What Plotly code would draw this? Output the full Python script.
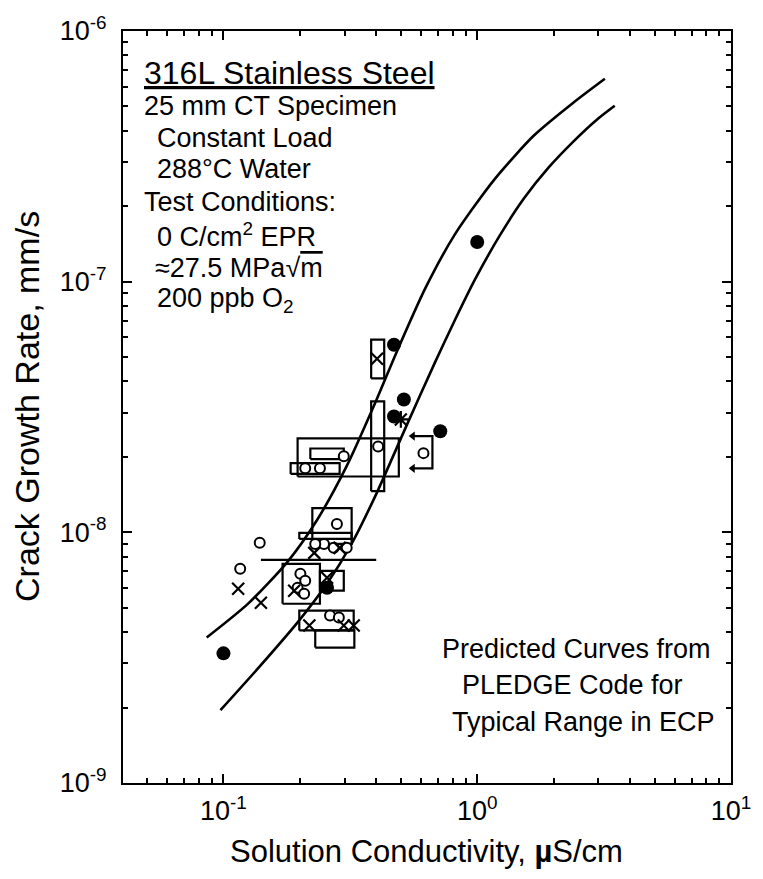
import plotly.graph_objects as go

# ---- PLEDGE predicted crack growth rate curves (upper / lower ECP bound) ----
upper_x = [0.0859, 0.1251, 0.1788, 0.2338, 0.3058, 0.3999, 0.4783, 0.6254, 0.8178,
           1.1695, 1.6724, 2.3909, 3.1838]
upper_y = [3.806e-9, 5.195e-9, 7.627e-9, 1.120e-8, 1.836e-8, 3.357e-8, 5.162e-8,
           9.441e-8, 1.547e-7, 2.559e-7, 3.827e-7, 5.174e-7, 6.446e-7]
lower_x = [0.0973, 0.1368, 0.1956, 0.2557, 0.3197, 0.3999, 0.5229, 0.6839, 0.8178,
           0.9779, 1.2228, 1.5293, 1.9124, 2.3909, 2.9907, 3.4819]
lower_y = [1.952e-9, 2.866e-9, 4.365e-9, 6.237e-9, 8.994e-9, 1.421e-8, 2.623e-8,
           4.797e-8, 7.045e-8, 1.016e-7, 1.519e-7, 2.150e-7, 2.855e-7, 3.622e-7,
           4.469e-7, 5.035e-7]

# ---- measured crack growth rates ----
solid_x = [0.1, 0.47, 0.514, 0.715, 1.0, 0.256, 0.47]
solid_y = [3.29e-9, 5.6e-8, 3.39e-8, 2.53e-8, 1.44e-7, 6.01e-9, 2.9e-8]

open_x = [0.407, 0.298, 0.614, 0.139, 0.1164, 0.28, 0.249, 0.272, 0.306, 0.23,
          0.201, 0.21, 0.196, 0.208, 0.263, 0.285, 0.21, 0.24]
open_y = [2.2e-8, 2.01e-8, 2.07e-8, 9.08e-9, 7.16e-9, 1.08e-8, 8.99e-9, 8.67e-9,
          8.67e-9, 8.99e-9, 6.84e-9, 6.41e-9, 6.01e-9, 5.69e-9, 4.66e-9, 4.57e-9,
          1.8e-8, 1.8e-8]

cross_x = [0.403, 0.1143, 0.1405, 0.287, 0.228, 0.256, 0.19, 0.298, 0.218, 0.326]
cross_y = [4.93e-8, 5.96e-9, 5.24e-9, 8.67e-9, 8.28e-9, 6.59e-9, 5.85e-9,
           4.25e-9, 4.25e-9, 4.25e-9]

star_x = [0.50]
star_y = [2.82e-8]

# scatter ranges of individual tests: conductivity low/high, rate low/high
range_xlo = [0.382, 0.382, 0.196, 0.220, 0.184, 0.224, 0.199, 0.1405, 0.171, 0.240, 0.199, 0.230]
range_xhi = [0.430, 0.430, 0.491, 0.298, 0.287, 0.320, 0.320, 0.400, 0.240, 0.298, 0.326, 0.328]
range_ylo = [4.11e-8, 1.46e-8, 1.67e-8, 1.96e-8, 1.71e-8, 8.99e-9, 9.41e-9, 7.77e-9,
             5.19e-9, 5.85e-9, 4.06e-9, 3.47e-9]
range_yhi = [5.87e-8, 3.33e-8, 2.37e-8, 2.16e-8, 1.89e-8, 1.25e-8, 9.95e-9, 7.77e-9,
             7.48e-9, 7.02e-9, 4.87e-9, 4.06e-9]

# bracketed point whose conductivity is an upper bound (arrows toward lower values)
bound_xlo = 0.557
bound_xhi = 0.666
bound_ylo = 1.80e-8
bound_yhi = 2.42e-8

x_ticks = [0.1, 1, 10]
x_ticktext = ["10<sup>-1</sup>", "10<sup>0</sup>", "10<sup>1</sup>"]
y_ticks = [1e-9, 1e-8, 1e-7, 1e-6]
y_ticktext = ["10<sup>-9</sup>", "10<sup>-8</sup>", "10<sup>-7</sup>", "10<sup>-6</sup>"]

FONT = "Liberation Sans, Arial, sans-serif"
INK = "black"

fig = go.Figure()

for cx, cy in ((upper_x, upper_y), (lower_x, lower_y)):
    fig.add_trace(go.Scatter(x=cx, y=cy, mode="lines",
                             line=dict(color=INK, width=2.6, shape="spline", smoothing=0.7),
                             hoverinfo="skip", showlegend=False))

# rectangles for the scatter ranges
bx, by = [], []
for xlo, xhi, ylo, yhi in zip(range_xlo, range_xhi, range_ylo, range_yhi):
    if ylo == yhi:
        bx += [xlo, xhi, None]
        by += [ylo, yhi, None]
    else:
        bx += [xlo, xhi, xhi, xlo, xlo, None]
        by += [ylo, ylo, yhi, yhi, ylo, None]
fig.add_trace(go.Scatter(x=bx, y=by, mode="lines", line=dict(color=INK, width=2.2),
                         hoverinfo="skip", showlegend=False))

# bracket with arrows
fig.add_trace(go.Scatter(x=[bound_xlo, bound_xhi, bound_xhi, bound_xlo],
                         y=[bound_yhi, bound_yhi, bound_ylo, bound_ylo],
                         mode="lines", line=dict(color=INK, width=2.2),
                         hoverinfo="skip", showlegend=False))
fig.add_trace(go.Scatter(x=[bound_xlo, bound_xlo], y=[bound_yhi, bound_ylo], mode="markers",
                         marker=dict(symbol="triangle-left", size=8, color=INK),
                         hoverinfo="skip", showlegend=False))

fig.add_trace(go.Scatter(x=open_x, y=open_y, mode="markers",
                         marker=dict(symbol="circle", size=10, color="white", line=dict(color=INK, width=2)),
                         hoverinfo="skip", showlegend=False))
fig.add_trace(go.Scatter(x=cross_x, y=cross_y, mode="markers",
                         marker=dict(symbol="x-thin-open", size=12, color=INK, line=dict(color=INK, width=2.2)),
                         hoverinfo="skip", showlegend=False))
fig.add_trace(go.Scatter(x=star_x, y=star_y, mode="markers",
                         marker=dict(symbol="asterisk-open", size=14, color=INK, line=dict(color=INK, width=2.2)),
                         hoverinfo="skip", showlegend=False))
fig.add_trace(go.Scatter(x=solid_x, y=solid_y, mode="markers",
                         marker=dict(symbol="circle", size=14, color=INK, line=dict(width=0)),
                         hoverinfo="skip", showlegend=False))

# plot-area geometry in canvas pixels
W, H = 763, 879
L, R, T, B = 123, 740, 28, 783


def at(px, py):
    return (px - L) / (R - L), (B - py) / (B - T)


def label(text, px, py, size, anchor="left", angle=0):
    x, y = at(px, py)
    fig.add_annotation(x=x, y=y, xref="paper", yref="paper", text=text, showarrow=False,
                       xanchor=anchor, yanchor="middle", textangle=angle,
                       font=dict(family=FONT, size=size, color=INK))


label("<u>316L Stainless Steel</u>", 142, 70, 32)
label("25 mm CT Specimen", 142, 103, 27)
label("Constant Load", 155, 135, 27)
label("288°C Water", 155, 167, 27)
label("Test Conditions:", 142, 200, 27)
label("0 C/cm<sup>2</sup> EPR", 155, 233, 27)
label("≈27.5 MPa√<span style='text-decoration:overline'>m</span>", 153, 266, 27)
label("200 ppb O<sub>2</sub>", 155, 298, 27)

label("Predicted Curves from", 445, 648, 27)
label("PLEDGE Code for", 465, 685, 27)
label("Typical Range in ECP", 455, 722, 27)

label("Solution Conductivity, <b>µ</b>S/cm", 431, 852, 31, anchor="center")
label("Crack Growth Rate, mm/s", 25, 405, 34, anchor="center", angle=-90)

minor_x = [m * 10 ** e for e in (-2, -1, 0) for m in range(2, 10)]
minor_y = [m * 10 ** e for e in (-9, -8, -7) for m in range(2, 10)]

axis_common = dict(type="log", showgrid=False, zeroline=False, showline=True, linecolor=INK,
                   linewidth=2, mirror="allticks", ticks="inside", ticklen=9, tickwidth=1.6,
                   tickcolor=INK, tickfont=dict(family=FONT, size=27, color=INK))

fig.update_xaxes(range=[-1.3958, 1], tickmode="array", tickvals=x_ticks, ticktext=x_ticktext,
                 minor=dict(tickmode="array", tickvals=minor_x, ticks="inside", ticklen=5,
                            tickwidth=1.6, tickcolor=INK, showgrid=False),
                 ticklabelstandoff=3, **axis_common)
fig.update_yaxes(range=[-9, -6], tickmode="array", tickvals=y_ticks, ticktext=y_ticktext,
                 minor=dict(tickmode="array", tickvals=minor_y, ticks="inside", ticklen=5,
                            tickwidth=1.6, tickcolor=INK, showgrid=False),
                 ticklabelstandoff=9, **axis_common)

fig.update_layout(width=W, height=H, margin=dict(l=L, r=W - R, t=T, b=H - B),
                  paper_bgcolor="white", plot_bgcolor="white", showlegend=False)

fig.write_html("out.html")
